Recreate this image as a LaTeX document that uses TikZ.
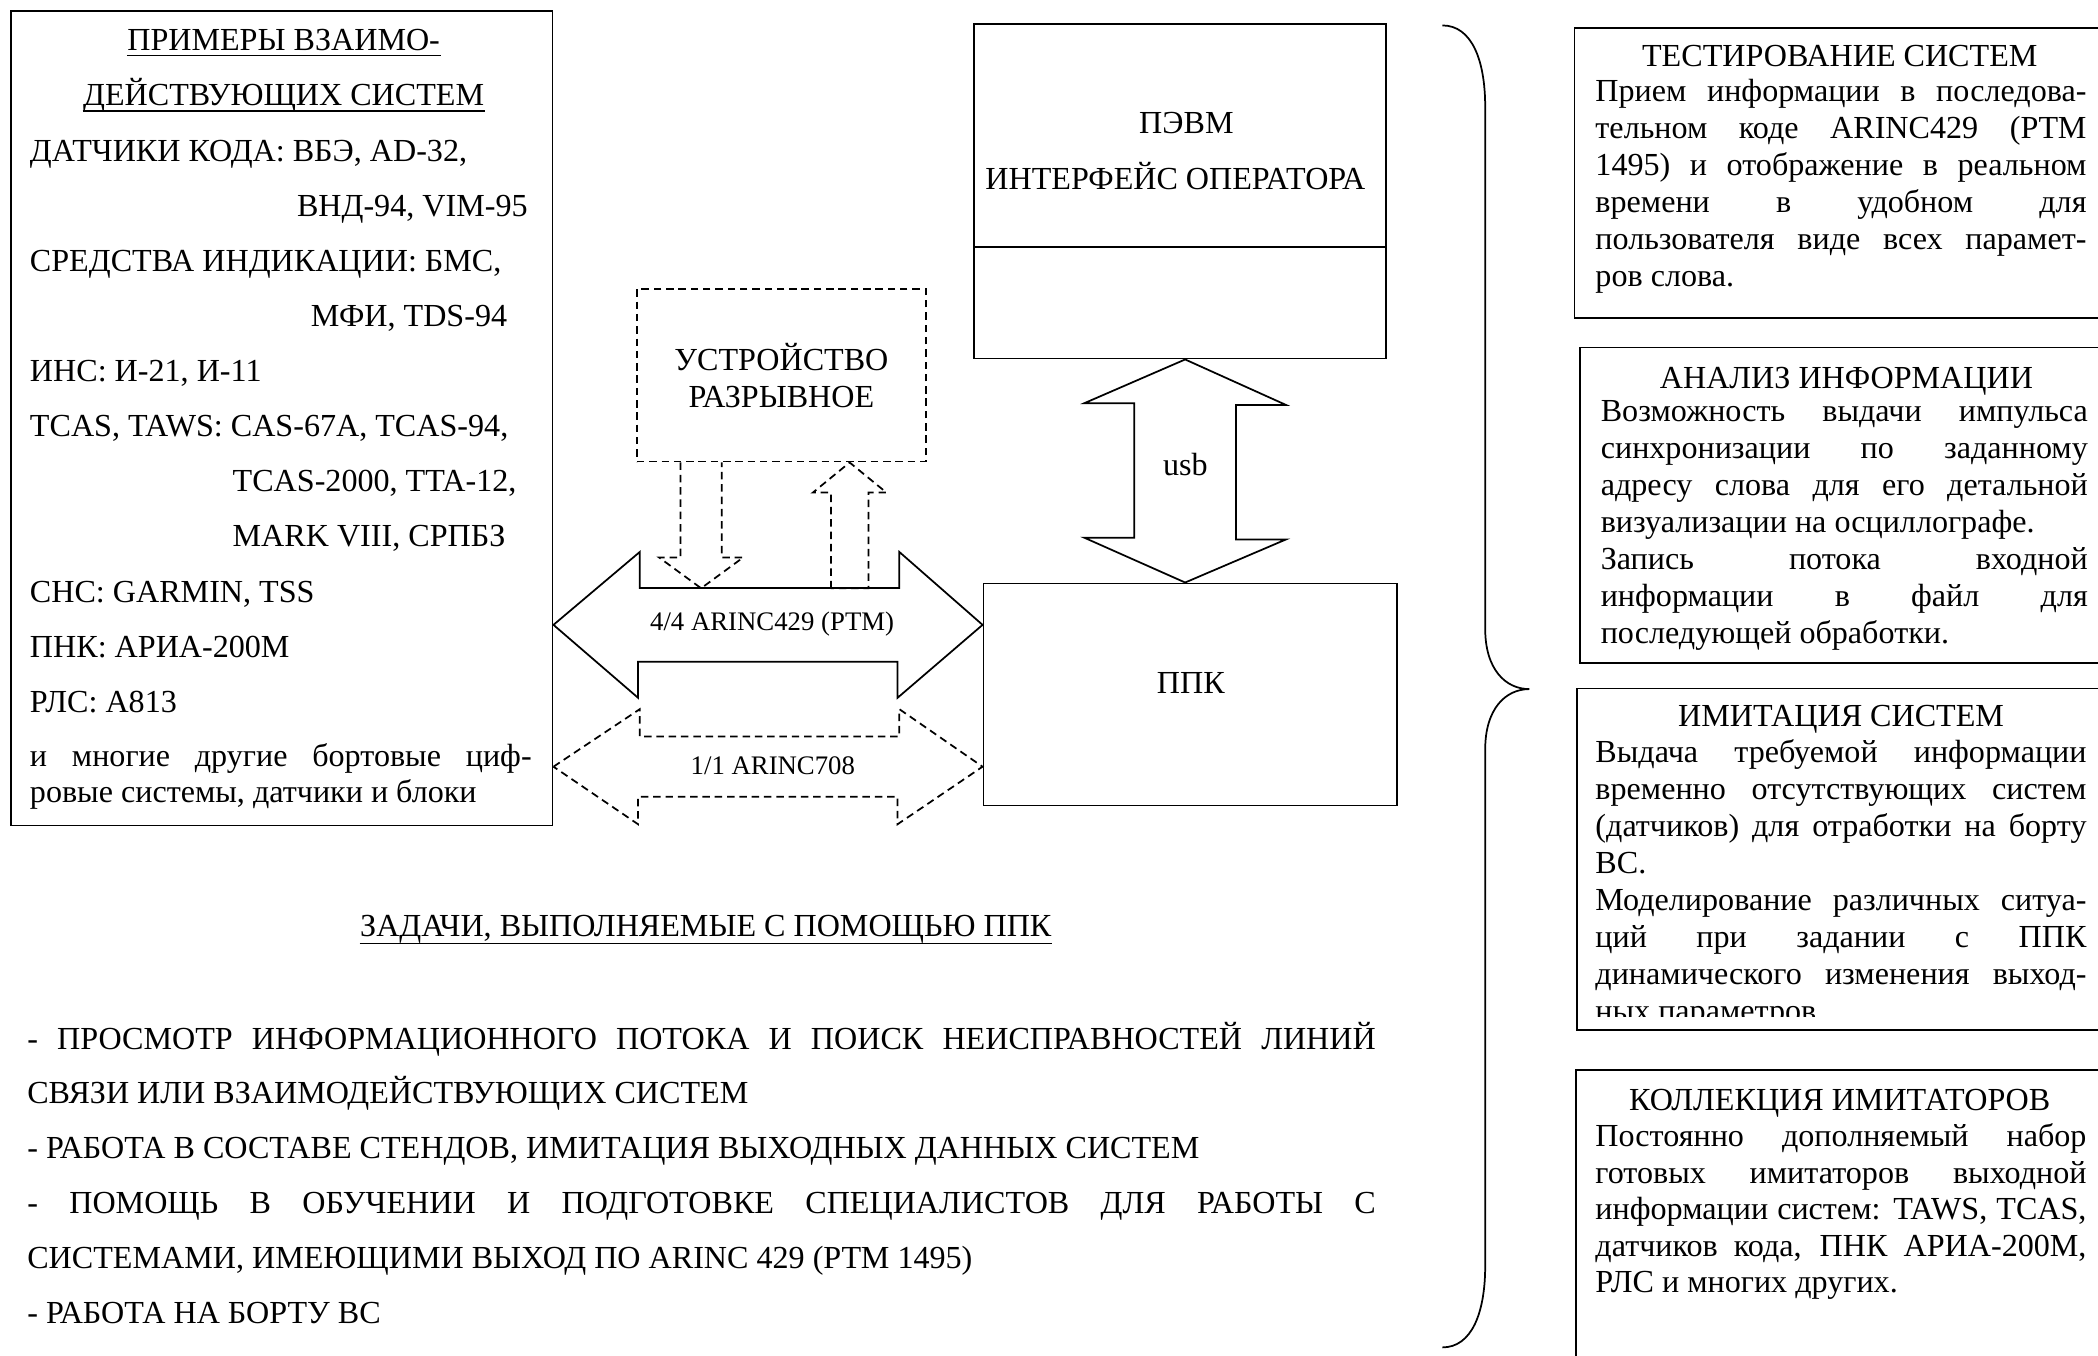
\documentclass[tikz,border=0pt]{standalone}
\usepackage{fontspec}
\setmainfont{Liberation Serif}
\usetikzlibrary{calc}

\tikzset{
  box/.style={draw, line width=0.65pt, rectangle, inner sep=0pt},
  dashbox/.style={box, dash pattern=on 2.8pt off 1.8pt},
  plain/.style={line width=0.65pt},
  txt/.style={inner sep=0pt, font=\fontsize{12}{14}\selectfont},
  smalltxt/.style={inner sep=0pt, font=\fontsize{10}{12}\selectfont},
  bigarrow/.style={draw, line width=0.65pt, line join=miter},
  dasharrow/.style={bigarrow, dash pattern=on 2.8pt off 1.8pt},
  ul/.style={line width=0.6pt},
}
\newcommand{\jl}[2][183.5pt]{\makebox[#1][s]{#2}}

\begin{document}
\begin{tikzpicture}[x=0.5pt, y=-0.5pt]
    \useasboundingbox (0,0) rectangle (1568,1013);
    \clip (0,0) rectangle (1568,1013);

    % Interacting systems
    \node[box, minimum width=202.5pt, minimum height=304.5pt] (examples) at (210.5,312.5) {};
    \node[txt, anchor=base] (exhd1) at (212,38) {ПРИМЕРЫ ВЗАИМО-};
    \node[txt, anchor=base] (exhd2) at (212,79.2) {ДЕЙСТВУЮЩИХ СИСТЕМ};
    \foreach \n in {exhd1, exhd2}
        \draw[ul] ([yshift=-1.8pt]\n.base west) -- ([yshift=-1.8pt]\n.base east);
    \foreach \px/\py/\ltext [count=\i] in {
        22/120.4/{ДАТЧИКИ КОДА: ВБЭ, AD-32,},
        221.6/161.6/{ВНД-94, VIM-95},
        22/202.8/{СРЕДСТВА ИНДИКАЦИИ: БМС,},
        232/244/{МФИ, TDS-94},
        22/285.2/{ИНС: И-21, И-11},
        22/326.4/{TCAS, TAWS: CAS-67A, TCAS-94,},
        173.5/367.6/{TCAS-2000, TTA-12,},
        173.5/408.8/{MARK VIII, СРПБЗ},
        22/450/{СНС: GARMIN, TSS},
        22/491.2/{ПНК: АРИА-200М},
        22/532.4/{РЛС: А813},
        22/573/{\makebox[187.5pt][s]{и многие другие бортовые циф-}},
        22/600/{ровые системы, датчики и блоки}
    }
        \node[txt, anchor=base west] (ex\i) at (\px,\py) {\ltext};

    % PC, tester, breakout box
    \node[box, minimum width=154pt, minimum height=125pt] (pevm) at (882,143) {};
    \draw[plain] (pevm.west |- 0,184.7) -- (pevm.east |- 0,184.7);
    \node[txt, anchor=base] (pevmname) at (886.7,100) {ПЭВМ};
    \node[txt, anchor=base] (pevmui) at (878.5,141.5) {ИНТЕРФЕЙС ОПЕРАТОРА};

    \node[box, minimum width=154.5pt, minimum height=83pt] (ppk) at (889.5,519) {};
    \node[txt, anchor=base] (ppkname) at (890,518.4) {ППК};

    \node[dashbox, minimum width=108pt, minimum height=64.5pt, align=center, txt] (razr) at (584,280.5) {УСТРОЙСТВО\\РАЗРЫВНОЕ};

    % Buses
    \draw[bigarrow] (examples.east |- 0,467)
        -- ++(64.5,-54.5) -- ++(0,27) -- ++(194,0) -- ++(0,-27)
        -- (ppk.west |- 0,467)
        -- ++(-63.5,54.5) -- ++(0,-27) -- ++(-194,0) -- ++(0,27) -- cycle;
    \node[smalltxt, anchor=base] (bus429) at (577,471) {4/4 ARINC429 (РТМ)};

    \draw[dasharrow] (examples.east |- 0,573)
        -- ++(64.5,-43) -- ++(0,20.5) -- ++(194,0) -- ++(0,-20.5)
        -- (ppk.west |- 0,573)
        -- ++(-63.5,43) -- ++(0,-20.5) -- ++(-194,0) -- ++(0,20.5) -- cycle;
    \node[smalltxt, anchor=base] (bus708) at (577.6,579) {1/1 ARINC708};

    \coordinate (usbmid) at ($(pevm.south)!0.5!(ppk.north)$);
    \draw[bigarrow] (usbmid |- pevm.south)
        -- ++(75.4,34) -- ++(-37.4,0) -- ++(0,100.5) -- ++(37.4,0)
        -- (usbmid |- ppk.north)
        -- ++(-75.4,-33.5) -- ++(37.4,0) -- ++(0,-100.5) -- ++(-37.4,0) -- cycle;
    \node[txt, anchor=base] (usb) at (886,355) {usb};

    \draw[dasharrow] ($(razr.south)+(-75.4,0)$)
        -- ++(0,71) -- ++(-16,0) -- ++(31.4,23) -- ++(31.4,-23) -- ++(-16,0) -- ++(0,-71);
    \draw[dasharrow] ($(razr.south)+(37,94)$)
        -- ++(0,-71.5) -- ++(-13.5,0) -- ++(27.5,-22.5) -- ++(27.5,22.5) -- ++(-13.5,0) -- ++(0,71.5) -- cycle;

    % Tasks
    \node[txt, anchor=base] (taskhd) at (527.5,700) {ЗАДАЧИ, ВЫПОЛНЯЕМЫЕ С ПОМОЩЬЮ ППК};
    \draw[ul] ([yshift=-2.5pt]taskhd.base west) -- ([yshift=-2.5pt]taskhd.base east);
    \foreach \ltext [count=\i] in {
        {\makebox[504pt][s]{- ПРОСМОТР ИНФОРМАЦИОННОГО ПОТОКА И ПОИСК НЕИСПРАВНОСТЕЙ ЛИНИЙ}},
        {СВЯЗИ ИЛИ ВЗАИМОДЕЙСТВУЮЩИХ СИСТЕМ},
        {- РАБОТА В СОСТАВЕ СТЕНДОВ, ИМИТАЦИЯ ВЫХОДНЫХ ДАННЫХ СИСТЕМ},
        {\makebox[504pt][s]{- ПОМОЩЬ В ОБУЧЕНИИ И ПОДГОТОВКЕ СПЕЦИАЛИСТОВ ДЛЯ РАБОТЫ С}},
        {СИСТЕМАМИ, ИМЕЮЩИМИ ВЫХОД ПО ARINC 429 (РТМ 1495)},
        {- РАБОТА НА БОРТУ ВС}
    }
        \node[txt, anchor=base west] (task\i) at (20,{784+41*(\i-1)}) {\ltext};

    % Brace
    \draw[plain] (1078,19) .. controls (1100,19) and (1110,45) .. (1110,80)
        -- (1110,470) .. controls (1110,500) and (1125,515) .. (1143,515)
        .. controls (1125,515) and (1110,530) .. (1110,560)
        -- (1110,946) .. controls (1110,981) and (1100,1007) .. (1078,1007);

    % Functions
    \node[box, anchor=north west, minimum width=230pt, minimum height=108.5pt] (test) at (1176,20) {};
    \node[txt, anchor=base] (testhd) at (1375,50) {ТЕСТИРОВАНИЕ СИСТЕМ};
    \foreach \ltext [count=\i] in {
        {\jl{Прием информации в последова-}},
        {\jl{тельном коде ARINC429 (РТМ}},
        {\jl{1495) и отображение в реальном}},
        {\jl{времени в удобном для}},
        {\jl{пользователя виде всех парамет-}},
        {ров слова.}
    }
        \node[txt, anchor=base west] (test\i) at (1192,{76+27.6*(\i-1)}) {\ltext};

    \node[box, anchor=north west, minimum width=230pt, minimum height=118pt] (anal) at (1180,259) {};
    \node[txt, anchor=base] (analhd) at (1380,290) {АНАЛИЗ ИНФОРМАЦИИ};
    \foreach \ltext [count=\i] in {
        {\jl[182pt]{Возможность выдачи импульса}},
        {\jl[182pt]{синхронизации по заданному}},
        {\jl[182pt]{адресу слова для его детальной}},
        {визуализации на осциллографе.},
        {\jl[182pt]{Запись потока входной}},
        {\jl[182pt]{информации в файл для}},
        {последующей обработки.}
    }
        \node[txt, anchor=base west] (anal\i) at (1196,{315+27.6*(\i-1)}) {\ltext};

    \node[box, anchor=north west, minimum width=230pt, minimum height=127.5pt] (imit) at (1178,514) {};
    \node[txt, anchor=base] (imithd) at (1376,543) {ИМИТАЦИЯ СИСТЕМ};
    \begin{scope}
        \clip (imit.north west) rectangle (1568,760);
        \foreach \ltext [count=\i] in {
            {\jl{Выдача требуемой информации}},
            {\jl{временно отсутствующих систем}},
            {\jl{(датчиков) для отработки на борту}},
            {ВС.},
            {\jl{Моделирование различных ситуа-}},
            {\jl{ций при задании с ППК}},
            {\jl{динамического изменения выход-}},
            {ных параметров.}
        }
            \node[txt, anchor=base west] (imit\i) at (1192,{569.5+27.7*(\i-1)}) {\ltext};
    \end{scope}

    \node[box, anchor=north west, minimum width=230pt, minimum height=150pt] (koll) at (1177,799) {};
    \node[txt, anchor=base] (kollhd) at (1375,830) {КОЛЛЕКЦИЯ ИМИТАТОРОВ};
    \foreach \ltext [count=\i] in {
        {\jl{Постоянно дополняемый набор}},
        {\jl{готовых имитаторов выходной}},
        {\jl{информации систем: TAWS, TCAS,}},
        {\jl{датчиков кода, ПНК АРИА-200М,}},
        {РЛС и многих других.}
    }
        \node[txt, anchor=base west] (koll\i) at (1192,{857+27.3*(\i-1)}) {\ltext};
\end{tikzpicture}
\end{document}
